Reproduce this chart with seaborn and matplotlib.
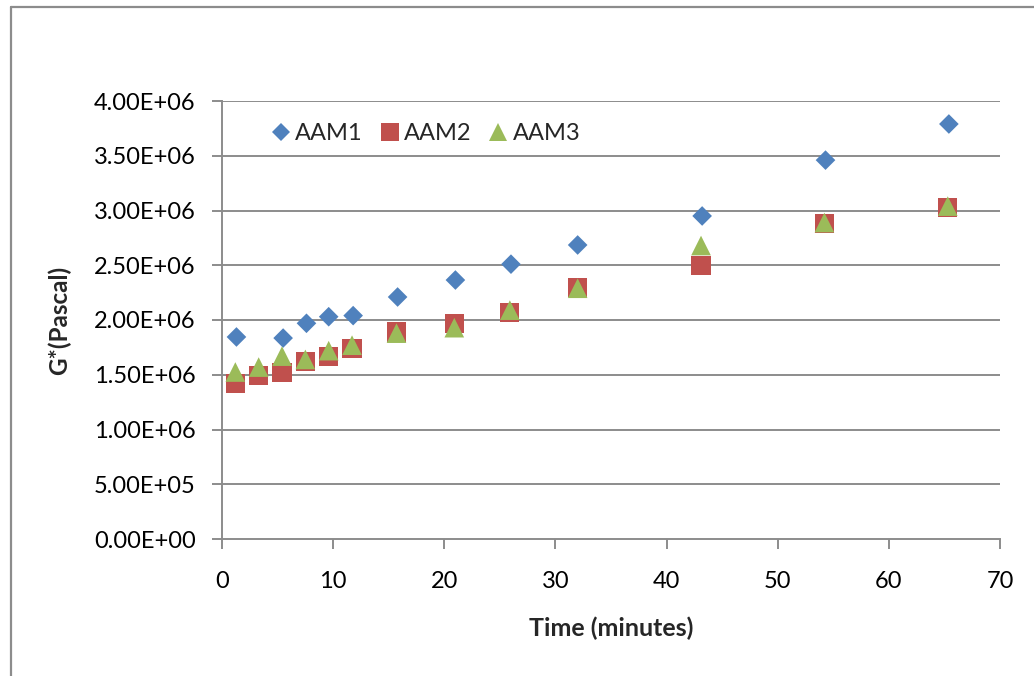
import matplotlib
matplotlib.use("Agg")
import matplotlib.pyplot as plt
from matplotlib.lines import Line2D
from matplotlib.ticker import FuncFormatter
import seaborn as sns
import pandas as pd

# Measurement times (minutes)
time_aam1 = [1.3, 5.5, 7.6, 9.6, 11.8, 15.8, 21.0, 26.0, 32.0, 43.2, 54.3, 65.4]
time_aam23 = [1.2, 3.3, 5.4, 7.5, 9.6, 11.7, 15.7, 20.9, 25.9, 32.0, 43.1, 54.2, 65.3]

# Complex modulus G* (Pa)
g_aam1 = [1.845e6, 1.835e6, 1.97e6, 2.03e6, 2.04e6, 2.21e6, 2.365e6, 2.51e6,
          2.685e6, 2.95e6, 3.46e6, 3.79e6]
g_aam2 = [1.42e6, 1.49e6, 1.52e6, 1.62e6, 1.67e6, 1.74e6, 1.89e6, 1.97e6,
          2.07e6, 2.30e6, 2.50e6, 2.885e6, 3.03e6]
g_aam3 = [1.525e6, 1.57e6, 1.67e6, 1.64e6, 1.72e6, 1.77e6, 1.88e6, 1.93e6,
          2.09e6, 2.29e6, 2.68e6, 2.89e6, 3.04e6]

x_ticks = [0, 10, 20, 30, 40, 50, 60, 70]
y_ticks = [0, 0.5e6, 1.0e6, 1.5e6, 2.0e6, 2.5e6, 3.0e6, 3.5e6, 4.0e6]

series_names = ["AAM1", "AAM2", "AAM3"]
series_colors = ["#4F81BD", "#C0504D", "#9BBB59"]
series_markers = ["D", "s", "^"]
series_sizes = [100, 190, 200]

df = pd.concat([
    pd.DataFrame({"time": time_aam1, "G": g_aam1, "series": "AAM1"}),
    pd.DataFrame({"time": time_aam23, "G": g_aam2, "series": "AAM2"}),
    pd.DataFrame({"time": time_aam23, "G": g_aam3, "series": "AAM3"}),
], ignore_index=True)

sns.set_theme(style="white")
plt.rcParams["font.family"] = ["Lato", "DejaVu Sans"]

fig = plt.figure(figsize=(10.34, 6.76), dpi=100)
ax = fig.add_axes([222 / 1034, 1 - 539 / 676, (1000 - 222) / 1034, (539 - 101) / 676])

grid_color = "#8C8C8C"
ax.set_axisbelow(True)
for yv in y_ticks[1:]:
    ax.axhline(yv, color=grid_color, lw=1.4, zorder=0)

for name, color, marker, size in zip(series_names, series_colors, series_markers, series_sizes):
    sub = df[df["series"] == name]
    sns.scatterplot(data=sub, x="time", y="G", ax=ax, color=color, marker=marker,
                    s=size, edgecolor="none", linewidth=0, label=name, zorder=3,
                    clip_on=False)

ax.set_xlim(0, 70)
ax.set_ylim(0, 4.0e6)
ax.set_xticks(x_ticks)
ax.set_yticks(y_ticks)
ax.yaxis.set_major_formatter(FuncFormatter(lambda v, p: "{:.2E}".format(v)))

for side in ["top", "right"]:
    ax.spines[side].set_visible(False)
for side in ["left", "bottom"]:
    ax.spines[side].set_color(grid_color)
    ax.spines[side].set_linewidth(1.4)

ax.tick_params(axis="both", which="major", direction="out", color=grid_color,
               width=1.4, length=7, labelsize=17, labelcolor="black")
ax.tick_params(axis="y", pad=12, left=True)
ax.tick_params(axis="x", pad=16, bottom=True)

ax.set_xlabel("Time (minutes)", fontsize=18, fontweight="bold", labelpad=18)
ax.set_ylabel("G*(Pascal)", fontsize=17.5, fontweight="bold", labelpad=16)

handles = [
    Line2D([], [], linestyle="none", marker=m, color=c, markersize=ms, markeredgewidth=0)
    for m, c, ms in zip(series_markers, series_colors, [9, 13, 13])
]
ax.legend(handles, series_names, loc="upper left", bbox_to_anchor=(0.033, 0.998),
          ncol=3, frameon=False, fontsize=17, handletextpad=0.1,
          columnspacing=0.65, handlelength=1.0)

# Outer chart border
fig.add_artist(Line2D([11 / 1034, 11 / 1034], [0, 1 - 7 / 676], color="#8C8C8C", lw=1.6))
fig.add_artist(Line2D([11 / 1034, 1], [1 - 7 / 676, 1 - 7 / 676], color="#8C8C8C", lw=1.6))

fig.savefig("out.png", dpi=100, facecolor="white")
